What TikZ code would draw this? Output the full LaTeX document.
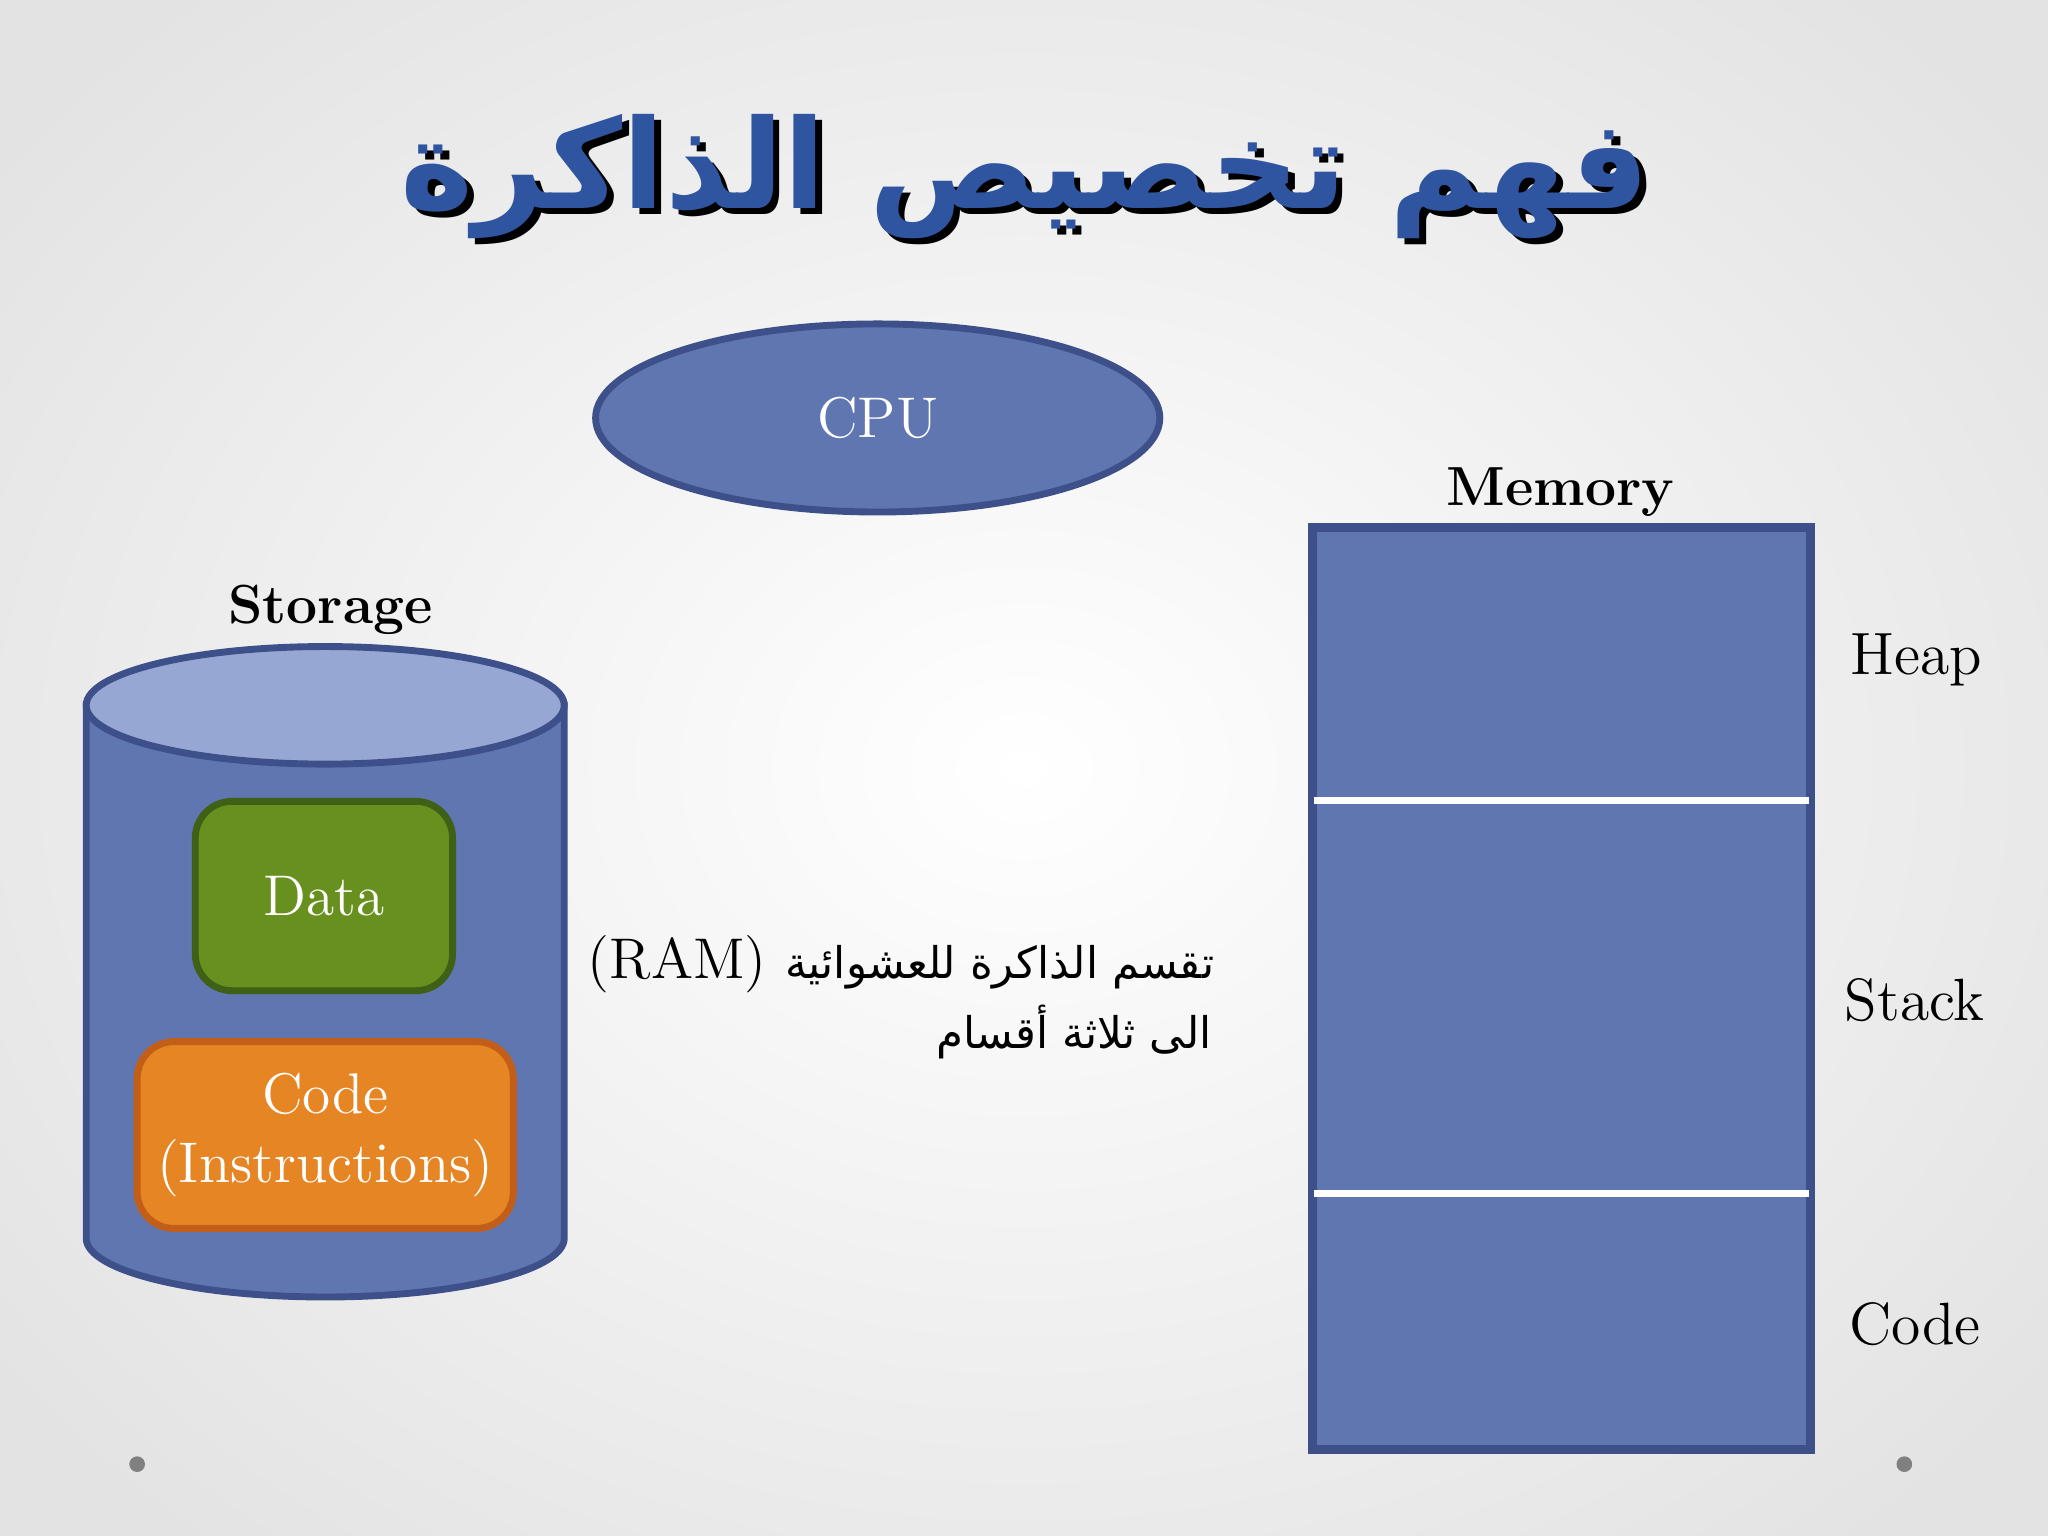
\documentclass[tikz,border=0pt]{standalone}
\usepackage{fontspec}
\newfontfamily\arabicfont[Script=Arabic]{DejaVu Sans}
\TeXXeTstate=1
\usetikzlibrary{shapes.geometric}
\definecolor{fillblue}{HTML}{5F76B1}
\definecolor{edgeblue}{HTML}{3E5089}
\definecolor{topblue}{HTML}{97A7D4}
\definecolor{titleblue}{HTML}{2F55A0}
\definecolor{greenf}{HTML}{67901F}
\definecolor{greene}{HTML}{3E6117}
\definecolor{orangef}{HTML}{E68524}
\definecolor{orangee}{HTML}{C25E17}
\tikzset{
 lbl/.style={font=\fontsize{13}{16}\selectfont},
 boldlbl/.style={font=\fontsize{12}{15}\selectfont\bfseries},
 inner/.style={font=\fontsize{12.5}{15}\selectfont, text=white, align=center},
}
\begin{document}
\begin{tikzpicture}[x=0.1mm,y=-0.1mm]
\useasboundingbox (0,0) rectangle (1568,1176);
\shade[inner color=white,outer color=gray!22] (-200,-200) rectangle (1768,1376);
% title
\node[text=black, font=\arabicfont\bfseries\fontsize{27}{30}\selectfont] (titleshadow) at (790,140) {\beginR فهم تخصيص الذاكرة\endR};
\node[text=titleblue, font=\arabicfont\bfseries\fontsize{27}{30}\selectfont] (title) at (785,135) {\beginR فهم تخصيص الذاكرة\endR};
% CPU
\node[ellipse, draw=edgeblue, line width=1.5pt, fill=fillblue, minimum width=43.2mm, minimum height=14.4mm, inner] (cpu) at (672,320) {CPU};
% storage cylinder
\path[fill=fillblue, draw=edgeblue, line width=1.5pt] (66,540) -- (66,948) arc[start angle=180,end angle=0,x radius=183,y radius=45] -- (432,540) -- cycle;
\draw[fill=topblue, draw=edgeblue, line width=1.5pt] (249,540) ellipse[x radius=183, y radius=45];
\node[boldlbl] (storage) at (253,467) {Storage};
\node[draw=greene, fill=greenf, line width=1.5pt, rounded corners=8pt, minimum width=19.7mm, minimum height=14.5mm, inner] (data) at (248,686) {Data};
\node[draw=orangee, fill=orangef, line width=1.5pt, rounded corners=8pt, minimum width=28.8mm, minimum height=14.3mm, inner] (code) at (249,869) {Code\\(Instructions)};
% arabic text
\node[anchor=east, font=\fontsize{12.5}{15}\selectfont] (line1) at (942,738) {(RAM) {\arabicfont\fontsize{9.5}{12}\selectfont\beginR تقسم الذاكرة للعشوائية\endR}};
\node[anchor=east, font=\arabicfont\fontsize{9.5}{12}\selectfont] (line2) at (940,790) {\beginR الى ثلاثة أقسام\endR};
% memory
\node[draw=edgeblue, fill=fillblue, line width=2pt, minimum width=38.1mm, minimum height=70.6mm] (mem) at (1195.5,757) {};
\draw[white, line width=1.5pt] (1006,613) -- (1385,613);
\draw[white, line width=1.5pt] (1006,914) -- (1385,914);
\node[boldlbl] (memlbl) at (1195,377) {Memory};
\node[lbl] (heap) at (1467,505) {Heap};
\node[lbl] (stack) at (1466,766) {Stack};
\node[lbl] (codelbl) at (1466,1014) {Code};
\fill[gray] (105,1121) circle (6);
\fill[gray] (1458,1121) circle (6);
\end{tikzpicture}
\end{document}
